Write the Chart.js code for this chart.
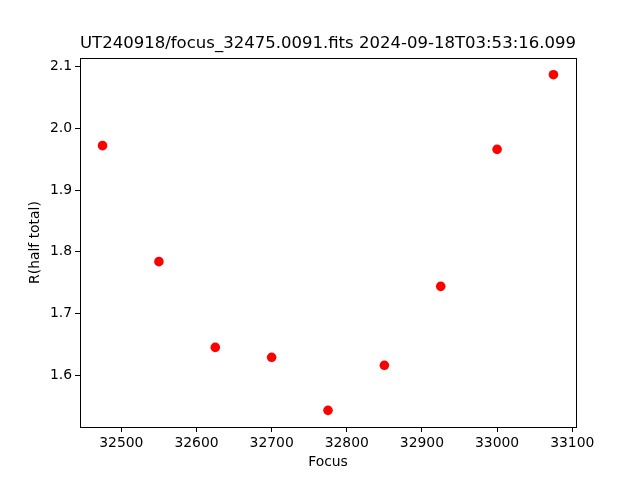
<!DOCTYPE html>
<html>
<head>
<meta charset="utf-8">
<script src="https://cdn.jsdelivr.net/npm/chart.js@4"></script>
<style>
  html, body { margin: 0; padding: 0; background: #fff; }
  #wrap { width: 640px; height: 480px; }
</style>
</head>
<body>
<div id="wrap"><canvas id="c" width="640" height="480"></canvas></div>
<script>
const focus = [32475, 32550, 32625, 32700, 32775, 32850, 32925, 33000, 33075];
const rHalf = [1.972, 1.784, 1.645, 1.629, 1.543, 1.616, 1.744, 1.966, 2.087];
const xTicks = [32500, 32600, 32700, 32800, 32900, 33000, 33100];
const yTicks = [1.6, 1.7, 1.8, 1.9, 2.0, 2.1];

const font = 'DejaVu Sans';

// draw the full box round the plot area, like matplotlib
const frame = {
  id: 'frame',
  afterDraw(chart) {
    const a = chart.chartArea, ctx = chart.ctx;
    ctx.save();
    ctx.strokeStyle = '#000';
    ctx.lineWidth = 1;
    ctx.strokeRect(Math.round(a.left) + 0.5, Math.round(a.top) + 0.5,
      Math.round(a.right - a.left), Math.round(a.bottom - a.top));
    ctx.restore();
  }
};

new Chart(document.getElementById('c'), {
  type: 'scatter',
  data: {
    datasets: [{
      data: focus.map((f, i) => ({ x: f, y: rHalf[i] })),
      backgroundColor: '#ff0000',
      borderWidth: 0,
      pointRadius: 4.8
    }]
  },
  options: {
    responsive: false,
    animation: false,
    layout: { padding: { left: 0, right: 64, top: 0, bottom: 0 } },
    plugins: {
      legend: { display: false },
      tooltip: { enabled: false },
      title: {
        display: true,
        fullSize: false,
        text: 'UT240918/focus_32475.0091.fits 2024-09-18T03:53:16.099',
        color: '#000',
        font: { family: font, size: 16.7, weight: 'normal' },
        padding: { top: 34, bottom: 4 }
      }
    },
    scales: {
      x: {
        type: 'linear',
        min: 32445,
        max: 33105,
        afterBuildTicks: s => { s.ticks = xTicks.map(v => ({ value: v })); },
        afterFit: s => { s.height = 53; },
        grid: { display: true, drawOnChartArea: false, drawTicks: true, tickLength: 5, color: '#000' },
        border: { display: true, color: '#000' },
        ticks: { color: '#000', font: { family: font, size: 13.9 }, padding: 3, maxRotation: 0,
          callback: v => String(v) },
        title: { display: true, text: 'Focus', color: '#000', font: { family: font, size: 13.9 }, padding: { top: 2, bottom: 9 } }
      },
      y: {
        type: 'linear',
        min: 1.516,
        max: 2.114,
        afterBuildTicks: s => { s.ticks = yTicks.map(v => ({ value: v })); },
        afterFit: s => { s.width = 80; },
        grid: { display: true, drawOnChartArea: false, drawTicks: true, tickLength: 5, color: '#000' },
        border: { display: true, color: '#000' },
        ticks: { color: '#000', font: { family: font, size: 13.9 }, padding: 3,
          callback: v => v.toFixed(1) },
        title: { display: true, text: 'R(half total)', color: '#000', font: { family: font, size: 13.9 }, padding: { top: 27, bottom: 0 } }
      }
    }
  },
  plugins: [frame]
});
</script>
</body>
</html>
